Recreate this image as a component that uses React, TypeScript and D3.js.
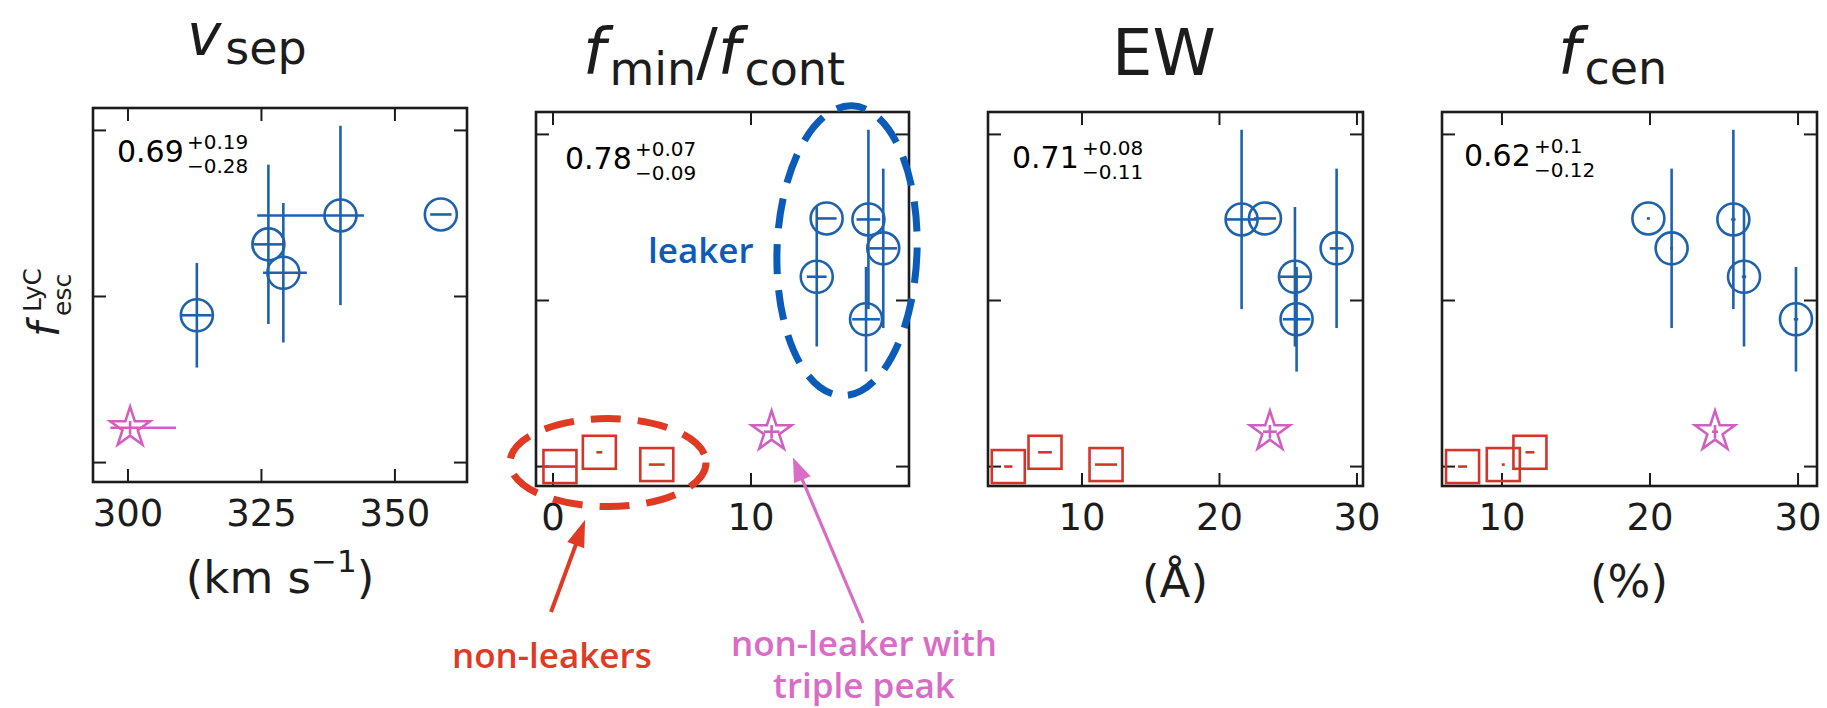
import React from 'react';
import * as d3 from 'd3';

const W = 1827;
const H = 708;

// ---------- shared y data: f_esc^LyC ----------
const leakerFesc = [0.0887, 0.1314, 0.1143, 0.1488, 0.1494];
const leakerFescErr = [0.0315, 0.048, 0.042, 0.054, 0];
const nonLeakerFesc = [0.0, 0.0086, 0.0012];
const tripleFesc = 0.021;
const tripleFescErr = 0.004;
const yTickValues = [0, 0.1, 0.2];
const yDomain = [-0.0117, 0.2135];

// ---------- panel 1: v_sep ----------
const vsepLeakerX = [312.9, 326.3, 329.1, 339.8, 358.6];
const vsepLeakerXErrLo = [2.8, 2.8, 3.8, 15.6, 2.0];
const vsepLeakerXErrHi = [2.8, 2.8, 4.4, 4.4, 2.0];
const vsepNonLeakerX: number[] = [];
const vsepNonLeakerXErr: number[] = [];
const vsepTripleX = 300.4;
const vsepTripleXErr = [3.7, 8.6];
const vsepTicks = [300, 325, 350];
const vsepDomain = [293.45, 363.5];
const vsepStat = ['0.69', '+0.19', '\u22120.28'];

// ---------- panel 2: f_min / f_cont ----------
const fminLeakerX = [15.81, 16.68, 13.32, 15.93, 13.82];
const fminLeakerXErr = [0.7, 0.7, 0.5, 0.6, 0.5];
const fminNonLeakerX = [0.35, 2.34, 5.24];
const fminNonLeakerXErr = [0.8, 0.15, 0.4];
const fminTripleX = 11.04;
const fminTripleXErr = [0.4, 0.4];
const fminTicks = [0, 10];
const fminDomain = [-0.86, 17.98];
const fminStat = ['0.78', '+0.07', '\u22120.09'];

// ---------- panel 3: EW ----------
const ewLeakerX = [25.61, 28.52, 25.49, 21.61, 23.31];
const ewLeakerXErr = [1.0, 0.5, 1.1, 1.1, 0.8];
const ewNonLeakerX = [4.64, 7.31, 11.75];
const ewNonLeakerXErr = [0.3, 0.5, 0.8];
const ewTripleX = 23.67;
const ewTripleXErr = [0.5, 0.5];
const ewTicks = [10, 20, 30];
const ewDomain = [3.164, 30.44];
const ewStat = ['0.71', '+0.08', '\u22120.11'];

// ---------- panel 4: f_cen ----------
const fcenLeakerX = [29.86, 21.46, 26.35, 25.63, 19.89];
const fcenLeakerXErr = [0.15, 0.1, 0.15, 0.15, 0.1];
const fcenNonLeakerX = [7.34, 11.89, 10.09];
const fcenNonLeakerXErr = [0.3, 0.3, 0.1];
const fcenTripleX = 24.39;
const fcenTripleXErr = [0.2, 0.2];
const fcenTicks = [10, 20, 30];
const fcenDomain = [5.95, 31.28];
const fcenStat = ['0.62', '+0.1', '\u22120.12'];

// ---------- layout / style (not data) ----------
const BLUE = '#1f62ac';
const RED = '#d4352b';
const PINK = '#d25fc0';
const INK = '#1c1c1c';
const FONT = "'DejaVu Sans', sans-serif";
const ANN_FONT = "'Open Sans', 'Noto Sans', sans-serif";

type PanelCfg = {
  left: number; right: number; top: number; bottom: number;
  domain: number[]; ticks: number[];
  lx: number[]; lxLo: number[]; lxHi: number[];
  nx: number[]; nxErr: number[];
  tx: number; txErr: number[];
  stat: string[]; statX: number; statY: number;
  xlabel: React.ReactNode;
  title: React.ReactNode;
};

function starPath(cx: number, cy: number, R: number) {
  const r = R * 0.381966;
  const pts: [number, number][] = [];
  for (let i = 0; i < 10; i++) {
    const a = -Math.PI / 2 + (i * Math.PI) / 5;
    const rad = i % 2 === 0 ? R : r;
    pts.push([cx + rad * Math.cos(a), cy + rad * Math.sin(a)]);
  }
  return d3.line()(pts) + 'Z';
}

function Panel({ c }: { c: PanelCfg }) {
  const x = d3.scaleLinear().domain(c.domain).range([c.left, c.right]);
  const y = d3.scaleLinear().domain(yDomain).range([c.bottom, c.top]);
  const TL = 13;
  const sq = 33;
  return (
    <g>
      {c.ticks.map((t) => (
        <g key={'xt' + t} stroke={INK} strokeWidth={2}>
          <line x1={x(t)} x2={x(t)} y1={c.bottom} y2={c.bottom - TL} />
          <line x1={x(t)} x2={x(t)} y1={c.top} y2={c.top + TL} />
        </g>
      ))}
      {yTickValues.map((t) => (
        <g key={'yt' + t} stroke={INK} strokeWidth={2}>
          <line x1={c.left} x2={c.left + TL} y1={y(t)} y2={y(t)} />
          <line x1={c.right} x2={c.right - TL} y1={y(t)} y2={y(t)} />
        </g>
      ))}
      {c.ticks.map((t) => (
        <text key={'xl' + t} x={x(t)} y={c.bottom + 44} fontSize={37} textAnchor="middle"
          fontFamily={FONT} fill={INK}>{t}</text>
      ))}
      {c.nx.map((v, i) => (
        <g key={'n' + i} stroke={RED} strokeWidth={2.6} fill="none">
          <line x1={x(v - c.nxErr[i])} x2={x(v + c.nxErr[i])} y1={y(nonLeakerFesc[i])} y2={y(nonLeakerFesc[i])} />
          <rect x={x(v) - sq / 2} y={y(nonLeakerFesc[i]) - sq / 2} width={sq} height={sq} />
        </g>
      ))}
      <g stroke={PINK} strokeWidth={2.6} fill="none">
        <line x1={x(c.tx - c.txErr[0])} x2={x(c.tx + c.txErr[1])} y1={y(tripleFesc)} y2={y(tripleFesc)} />
        <line x1={x(c.tx)} x2={x(c.tx)} y1={y(tripleFesc - tripleFescErr)} y2={y(tripleFesc + tripleFescErr)} />
        <path d={starPath(x(c.tx), y(tripleFesc), 21)} strokeLinejoin="miter" />
      </g>
      {c.lx.map((v, i) => (
        <g key={'l' + i} stroke={BLUE} strokeWidth={2.6} fill="none">
          {leakerFescErr[i] > 0 && (
            <line x1={x(v)} x2={x(v)} y1={y(leakerFesc[i] - leakerFescErr[i])} y2={y(leakerFesc[i] + leakerFescErr[i])} />
          )}
          <line x1={x(v - c.lxLo[i])} x2={x(v + c.lxHi[i])} y1={y(leakerFesc[i])} y2={y(leakerFesc[i])} />
          <circle cx={x(v)} cy={y(leakerFesc[i])} r={16} />
        </g>
      ))}
      <rect x={c.left} y={c.top} width={c.right - c.left} height={c.bottom - c.top} fill="none"
        stroke={INK} strokeWidth={2.6} />
      <text x={c.statX} y={c.statY} fontFamily={FONT} fill="#000" fontSize={30}>{c.stat[0]}</text>
      <text x={c.statX + 70} y={c.statY - 13} fontFamily={FONT} fill="#000" fontSize={20}>{c.stat[1]}</text>
      <text x={c.statX + 70} y={c.statY + 11} fontFamily={FONT} fill="#000" fontSize={20}>{c.stat[2]}</text>
      {c.xlabel}
      {c.title}
    </g>
  );
}

export default function App() {
  const panels: PanelCfg[] = [
    {
      left: 93, right: 467, top: 108, bottom: 482, domain: vsepDomain, ticks: vsepTicks,
      lx: vsepLeakerX, lxLo: vsepLeakerXErrLo, lxHi: vsepLeakerXErrHi,
      nx: vsepNonLeakerX, nxErr: vsepNonLeakerXErr, tx: vsepTripleX, txErr: vsepTripleXErr,
      stat: vsepStat, statX: 117, statY: 162,
      xlabel: (
        <text x={280} y={593} fontSize={45} textAnchor="middle" fontFamily={FONT} fill={INK}>
          (km s<tspan fontSize={31} dy={-21}>{'\u22121'}</tspan><tspan dy={21}>)</tspan>
        </text>
      ),
      title: (
        <text x={187} y={55} fontSize={58} fontFamily={FONT} fill={INK}>
          <tspan fontStyle="italic">v</tspan><tspan fontSize={46} dy={9} dx={4}>sep</tspan>
        </text>
      ),
    },
    {
      left: 536, right: 909, top: 112, bottom: 486, domain: fminDomain, ticks: fminTicks,
      lx: fminLeakerX, lxLo: fminLeakerXErr, lxHi: fminLeakerXErr,
      nx: fminNonLeakerX, nxErr: fminNonLeakerXErr, tx: fminTripleX, txErr: fminTripleXErr,
      stat: fminStat, statX: 565, statY: 169,
      xlabel: null,
      title: (
        <text x={583} y={74} fontSize={64} fontFamily={FONT} fill={INK}>
          <tspan fontStyle="italic">f</tspan>
          <tspan fontSize={46} dy={11} dx={4}>min</tspan>
          <tspan dy={-11}>/</tspan>
          <tspan fontStyle="italic">f</tspan>
          <tspan fontSize={46} dy={11} dx={4}>cont</tspan>
        </text>
      ),
    },
    {
      left: 988, right: 1363, top: 112, bottom: 486, domain: ewDomain, ticks: ewTicks,
      lx: ewLeakerX, lxLo: ewLeakerXErr, lxHi: ewLeakerXErr,
      nx: ewNonLeakerX, nxErr: ewNonLeakerXErr, tx: ewTripleX, txErr: ewTripleXErr,
      stat: ewStat, statX: 1012, statY: 168,
      xlabel: (
        <text x={1175} y={597} fontSize={45} textAnchor="middle" fontFamily={FONT} fill={INK}>(Å)</text>
      ),
      title: (
        <text x={1112} y={75} fontSize={64} fontFamily={FONT} fill={INK}>EW</text>
      ),
    },
    {
      left: 1442, right: 1817, top: 112, bottom: 486, domain: fcenDomain, ticks: fcenTicks,
      lx: fcenLeakerX, lxLo: fcenLeakerXErr, lxHi: fcenLeakerXErr,
      nx: fcenNonLeakerX, nxErr: fcenNonLeakerXErr, tx: fcenTripleX, txErr: fcenTripleXErr,
      stat: fcenStat, statX: 1464, statY: 166,
      xlabel: (
        <text x={1629} y={597} fontSize={45} textAnchor="middle" fontFamily={FONT} fill={INK}>(%)</text>
      ),
      title: (
        <text x={1558} y={74} fontSize={64} fontFamily={FONT} fill={INK}>
          <tspan fontStyle="italic">f</tspan><tspan fontSize={46} dy={10} dx={4}>cen</tspan>
        </text>
      ),
    },
  ];

  // annotation geometry in panel-2 data coordinates
  const p2 = panels[1];
  const ax = d3.scaleLinear().domain(p2.domain).range([p2.left, p2.right]);
  const ay = d3.scaleLinear().domain(yDomain).range([p2.bottom, p2.top]);
  const blueEll = { x: 14.85, y: 0.13 };
  const redEll = { x: 2.78, y: 0.0024 };
  const redTip = { x: 1.62, y: -0.032 };
  const pinkTip = { x: 12.12, y: 0.0054 };

  const arrow = (x1: number, y1: number, x2: number, y2: number, len: number, hw: number) => {
    const dx = x2 - x1, dy = y2 - y1;
    const L = Math.hypot(dx, dy);
    const ux = dx / L, uy = dy / L;
    const bx = x2 - ux * len, by = y2 - uy * len;
    const px = -uy, py = ux;
    return {
      line: [x1, y1, bx + ux * 2, by + uy * 2],
      head: `M${x2},${y2}L${bx + px * hw},${by + py * hw}L${bx - px * hw},${by - py * hw}Z`,
    };
  };
  const ra = arrow(551, 612, ax(redTip.x), ay(redTip.y), 27, 9);
  const pa = arrow(863, 623, ax(pinkTip.x), ay(pinkTip.y), 24, 9);

  return (
    <svg width={W} height={H} style={{ position: 'absolute', left: 0, top: 0, background: '#fff' }}>
      <rect width={W} height={H} fill="#fff" />
      {panels.map((c, i) => <Panel key={i} c={c} />)}
      {/* y label */}
      <g transform="translate(59,337) rotate(-90)" fontFamily={FONT} fill={INK}>
        <text x={0} y={0} fontSize={42} fontStyle="italic">f</text>
        <text x={25} y={-18} fontSize={25}>LyC</text>
        <text x={21} y={12} fontSize={25}>esc</text>
      </g>
      {/* annotations */}
      <ellipse cx={ax(blueEll.x)} cy={ay(blueEll.y)} rx={70} ry={145}
        transform={`rotate(2 ${ax(blueEll.x)} ${ay(blueEll.y)})`}
        fill="none" stroke="#0b5bb8" strokeWidth={7} strokeDasharray="30 16" />
      <ellipse cx={ax(redEll.x)} cy={ay(redEll.y)} rx={98} ry={44}
        fill="none" stroke="#e03a24" strokeWidth={7} strokeDasharray="30 17" />
      <text x={648} y={263} fontSize={35} fontWeight={600} fontFamily={ANN_FONT} fill="#0b5bb8">leaker</text>
      <line x1={ra.line[0]} y1={ra.line[1]} x2={ra.line[2]} y2={ra.line[3]} stroke="#e03a24" strokeWidth={4} />
      <path d={ra.head} fill="#e03a24" />
      <line x1={pa.line[0]} y1={pa.line[1]} x2={pa.line[2]} y2={pa.line[3]} stroke="#d86cc6" strokeWidth={3.2} />
      <path d={pa.head} fill="#d86cc6" />
      <text x={452} y={668} fontSize={35} fontWeight={600} fontFamily={ANN_FONT} fill="#e03a24">non-leakers</text>
      <text x={864} y={656} fontSize={35} fontWeight={600} fontFamily={ANN_FONT} fill="#d86cc6" textAnchor="middle">
        <tspan x={864}>non-leaker with</tspan>
        <tspan x={864} dy={42}>triple peak</tspan>
      </text>
    </svg>
  );
}
